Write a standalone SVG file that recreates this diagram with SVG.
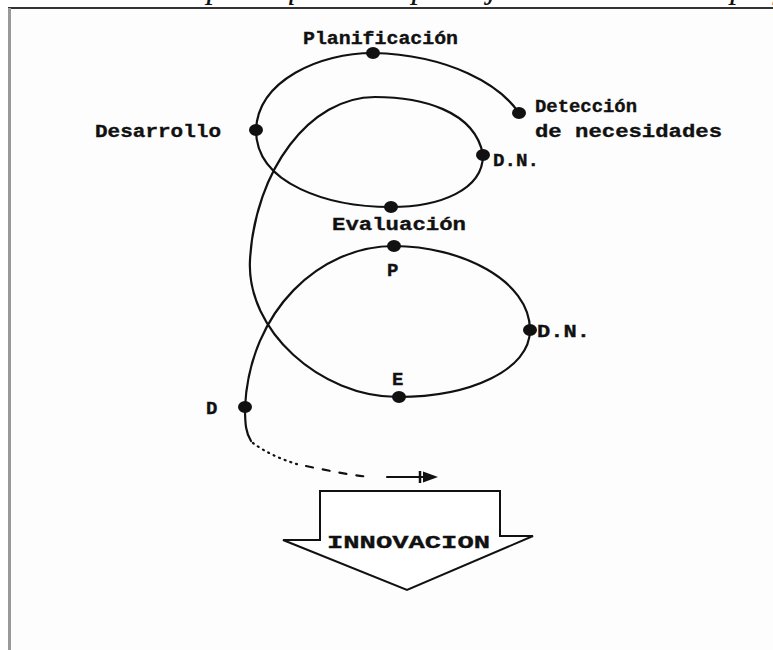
<svg xmlns="http://www.w3.org/2000/svg" width="773" height="650" viewBox="0 0 773 650">
<style>
.lbl{font-family:"Liberation Mono","DejaVu Sans Mono",monospace;font-weight:bold;font-size:19px;fill:#111;stroke:#111;stroke-width:0.35}
.dot{fill:#111}
.ln{fill:none;stroke:#111;stroke-width:2.2;stroke-linecap:round}
.cap{font-family:"Liberation Serif","Times New Roman",serif;font-style:italic;font-size:33px;fill:#111}
</style>
<rect width="773" height="650" fill="#fff"/>
<text class="cap" x="0" y="-2" textLength="790" lengthAdjust="spacingAndGlyphs">Sobre esta el espiral que se respaldaja esta acerca del proy</text>
<rect x="9" y="8" width="764" height="642" fill="#fdfdfd"/>
<path d="M8,8 H773" stroke="#333" stroke-width="2" fill="none"/>
<path d="M9.5,8 V650" stroke="#999" stroke-width="3" fill="none"/>

<g id="connectors">
  <path class="ln" d="M519,113 C500,85 450,55 373,53 C320,53 258,80 256,130 C256,185 330,207 391,207 C440,207 483,190 483,155 C475,110 420,97 375,97 C310,97 255,170 250,260 C246,330 320,397 398,397 C470,397 530,370 530,330 C530,280 460,246 394,246 C320,246 250,310 245,407"/>
  <path class="ln" d="M245,407 C245,425 246,433 251,441"/>
  <path class="ln" stroke-width="2.2" stroke-dasharray="1 5" d="M253,443 C265,452 282,460 300,465"/>
  <path class="ln" stroke-width="2.2" stroke-dasharray="7 10" stroke-linecap="butt" d="M306,466 C330,471 350,475 370,477"/>
  <path class="ln" stroke-width="2" d="M387,477 H425"/>
  <path d="M420,471 V483" stroke="#111" stroke-width="2.5"/>
  <polygon points="423,471.5 438,477 423,482.5" fill="#111"/>
</g>

<g id="planificacion"><ellipse class="dot" cx="373" cy="53" rx="7" ry="6"/><text class="lbl" x="303" y="44" textLength="155" lengthAdjust="spacingAndGlyphs">Planificación</text></g>
<g id="deteccion"><ellipse class="dot" cx="519" cy="113" rx="7" ry="6"/><text class="lbl" x="535" y="112" textLength="102" lengthAdjust="spacingAndGlyphs">Detección</text><text class="lbl" x="535" y="137" textLength="187" lengthAdjust="spacingAndGlyphs">de necesidades</text></g>
<g id="desarrollo"><ellipse class="dot" cx="256" cy="130" rx="7" ry="6"/><text class="lbl" x="95" y="137" textLength="126" lengthAdjust="spacingAndGlyphs">Desarrollo</text></g>
<g id="dn1"><ellipse class="dot" cx="483" cy="155" rx="7" ry="6"/><text class="lbl" x="493" y="166" textLength="46" lengthAdjust="spacingAndGlyphs">D.N.</text></g>
<g id="evaluacion"><ellipse class="dot" cx="391" cy="207" rx="7" ry="6"/><text class="lbl" x="332" y="230" textLength="134" lengthAdjust="spacingAndGlyphs">Evaluación</text></g>
<g id="p"><ellipse class="dot" cx="394" cy="246" rx="7" ry="6"/><text class="lbl" x="387" y="276">P</text></g>
<g id="dn2"><ellipse class="dot" cx="530" cy="330" rx="7" ry="6"/><text class="lbl" x="537" y="337" textLength="53" lengthAdjust="spacingAndGlyphs">D.N.</text></g>
<g id="e"><ellipse class="dot" cx="399" cy="397" rx="7" ry="6"/><text class="lbl" x="392" y="385">E</text></g>
<g id="d"><ellipse class="dot" cx="245" cy="407" rx="7" ry="6"/><text class="lbl" x="206" y="414">D</text></g>
<g id="innovacion">
  <polygon points="320,491 500,491 500,536 533,536 407,590 283,540 320,540" fill="#fff" stroke="#111" stroke-width="2" stroke-linejoin="miter"/>
  <text class="lbl" x="327" y="548" font-size="20" textLength="163" lengthAdjust="spacingAndGlyphs">INNOVACION</text>
</g>
</svg>
